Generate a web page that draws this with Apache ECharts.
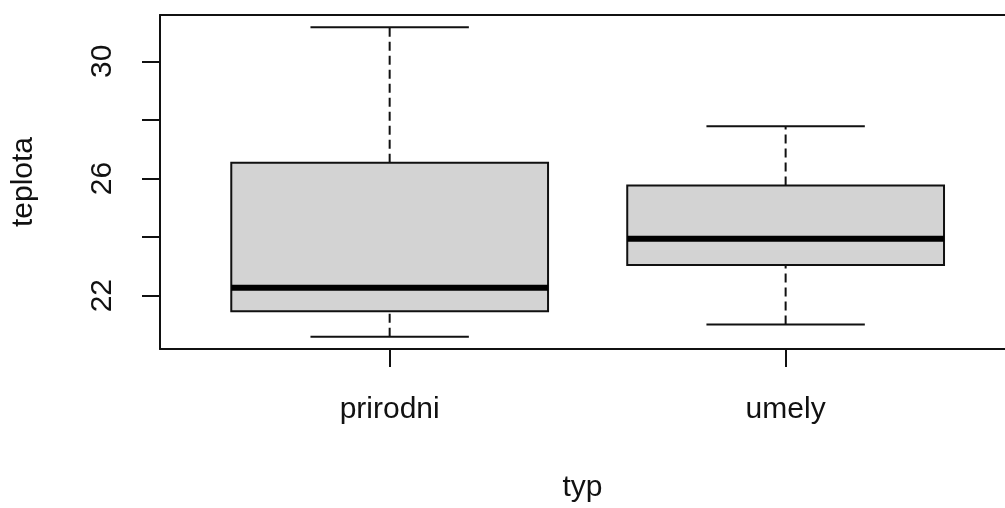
<!DOCTYPE html>
<html>
<head>
<meta charset="utf-8">
<script src="https://cdn.jsdelivr.net/npm/echarts@6/dist/echarts.min.js"></script>
<style>
  html, body { margin: 0; padding: 0; background: #fff; }
  #box-chart { width: 1005px; height: 508px; }
</style>
</head>
<body>
<div id="box-chart"></div>
<script>
// values (box plot of teplota by typ)
var categories = ['prirodni', 'umely'];
var positions = [1, 2];
var lowWhisker = [20.6, 21.02];
var q1Values = [21.47, 23.05];
var medians = [22.27, 23.94];
var q3Values = [26.54, 25.76];
var highWhisker = [31.16, 27.78];
var yTicks = [22, 24, 26, 28, 30];
var yTickLabels = [22, 26, 30];

var fontFamily = '"Liberation Sans", Arial, sans-serif';
var lineColor = '#111';

var boxData = categories.map(function (c, i) {
  return [positions[i], lowWhisker[i], q1Values[i], medians[i], q3Values[i], highWhisker[i]];
});

// R boxplot: boxwex 0.8, staple half width of box
function renderBox(params, api) {
  var x = api.value(0);
  var halfW = 0.4, capW = 0.2;
  var pLow = api.coord([x, api.value(1)]);
  var pQ1 = api.coord([x, api.value(2)]);
  var pMed = api.coord([x, api.value(3)]);
  var pQ3 = api.coord([x, api.value(4)]);
  var pHigh = api.coord([x, api.value(5)]);
  var left = api.coord([x - halfW, 0])[0];
  var right = api.coord([x + halfW, 0])[0];
  var capL = api.coord([x - capW, 0])[0];
  var capR = api.coord([x + capW, 0])[0];
  var dash = { stroke: lineColor, lineWidth: 2, lineDash: [9, 5] };
  var solid = { stroke: lineColor, lineWidth: 2 };
  return {
    type: 'group',
    children: [
      { type: 'line', shape: { x1: pQ3[0], y1: pQ3[1], x2: pHigh[0], y2: pHigh[1] }, style: dash },
      { type: 'line', shape: { x1: pLow[0], y1: pLow[1], x2: pQ1[0], y2: pQ1[1] }, style: dash },
      { type: 'line', shape: { x1: capL, y1: pHigh[1], x2: capR, y2: pHigh[1] }, style: solid },
      { type: 'line', shape: { x1: capL, y1: pLow[1], x2: capR, y2: pLow[1] }, style: solid },
      { type: 'rect', shape: { x: left, y: pQ3[1], width: right - left, height: pQ1[1] - pQ3[1] },
        style: { fill: '#d3d3d3', stroke: lineColor, lineWidth: 2 } },
      { type: 'line', shape: { x1: left, y1: pMed[1], x2: right, y2: pMed[1] },
        style: { stroke: '#000', lineWidth: 6 } }
    ]
  };
}

var boxChart = echarts.init(document.getElementById('box-chart'));

var frameLine = { show: true, onZero: false, lineStyle: { color: lineColor, width: 2 } };

var boxOption = {
  backgroundColor: '#fff',
  animation: false,
  grid: {
    left: 160,
    top: 15,
    right: 0,
    bottom: 156
  },
  xAxis: [{
    type: 'value',
    min: 0.42,
    max: 2.554,
    name: 'typ',
    nameLocation: 'middle',
    nameGap: 124,
    nameTextStyle: { fontFamily: fontFamily, fontSize: 30, color: '#111' },
    axisLine: frameLine,
    splitLine: { show: false },
    axisTick: {
      show: true,
      customValues: positions,
      length: 18,
      lineStyle: { color: lineColor, width: 2 }
    },
    axisLabel: {
      customValues: positions,
      margin: 46,
      fontFamily: fontFamily,
      fontSize: 30,
      color: '#111',
      formatter: function (v) {
        return categories[positions.indexOf(v)] || '';
      }
    }
  }, {
    // top side of the frame
    type: 'value',
    position: 'top',
    min: 0.42,
    max: 2.554,
    axisLine: frameLine,
    axisTick: { show: false },
    axisLabel: { show: false },
    splitLine: { show: false }
  }],
  yAxis: {
    type: 'value',
    min: 20.18,
    max: 31.58,
    name: 'teplota',
    nameLocation: 'middle',
    nameGap: 121,
    nameRotate: 90,
    nameTextStyle: { fontFamily: fontFamily, fontSize: 30, color: '#111' },
    axisLine: frameLine,
    splitLine: { show: false },
    axisTick: {
      show: true,
      customValues: yTicks,
      length: 18,
      lineStyle: { color: lineColor, width: 2 }
    },
    axisLabel: {
      customValues: yTickLabels,
      rotate: 90,
      margin: 42,
      fontFamily: fontFamily,
      fontSize: 30,
      color: '#111'
    }
  },
  series: [{
    type: 'custom',
    renderItem: renderBox,
    encode: { x: 0, y: [1, 2, 3, 4, 5] },
    data: boxData
  }]
};

boxChart.setOption(boxOption);
</script>
</body>
</html>
